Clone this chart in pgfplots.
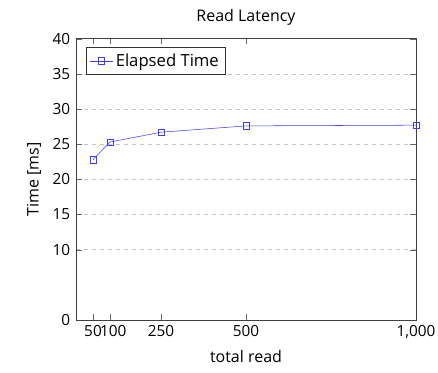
\documentclass[border=0pt]{standalone}
\usepackage{fontspec}
\setmainfont{Open Sans}
\usepackage{pgfplots}
\pgfplotsset{compat=1.18}
\definecolor{lineblue}{RGB}{60,60,255}
\begin{document}
\fontsize{12.5}{15}\selectfont
\begin{tikzpicture}[x=1pt,y=1pt]
\begin{axis}[
  at={(0,0)}, anchor=south west,
  scale only axis,
  width=255pt, height=211pt,
  xmin=0, xmax=1000, ymin=0, ymax=40,
  xtick={50,100,250,500,1000},
  xticklabels={50,\hspace{5pt}100,250,500,{1,000}},
  ytick={0,10,15,20,25,30,35,40},
  /pgf/number format/assume math mode=true,
  ymajorgrids, grid style={dashed, gray!45},
  axis line style={black!75},
  tick style={black!60},
  title={Read Latency},
  xlabel={total read},
  ylabel={Time [ms]},
  tick label style={font=\fontsize{11.5}{14}\selectfont},
  xticklabel style={inner xsep=0pt},
  label style={font=\fontsize{12}{15}\selectfont},
  title style={font=\fontsize{12}{15}\selectfont, yshift=0pt},
  legend style={at={(0.03,0.97)}, anchor=north west, font=\fontsize{12.5}{15}\selectfont, draw=black!80, inner sep=2.5pt},
  legend cell align=left,
]
\addplot[lineblue, mark=square, mark size=2.4pt] coordinates {
  (50,22.8) (100,25.3) (250,26.7) (500,27.6) (1000,27.7)
};
\addlegendentry{Elapsed Time}
\end{axis}
\path (-57,-39) rectangle (271.5,240);
\end{tikzpicture}
\end{document}
